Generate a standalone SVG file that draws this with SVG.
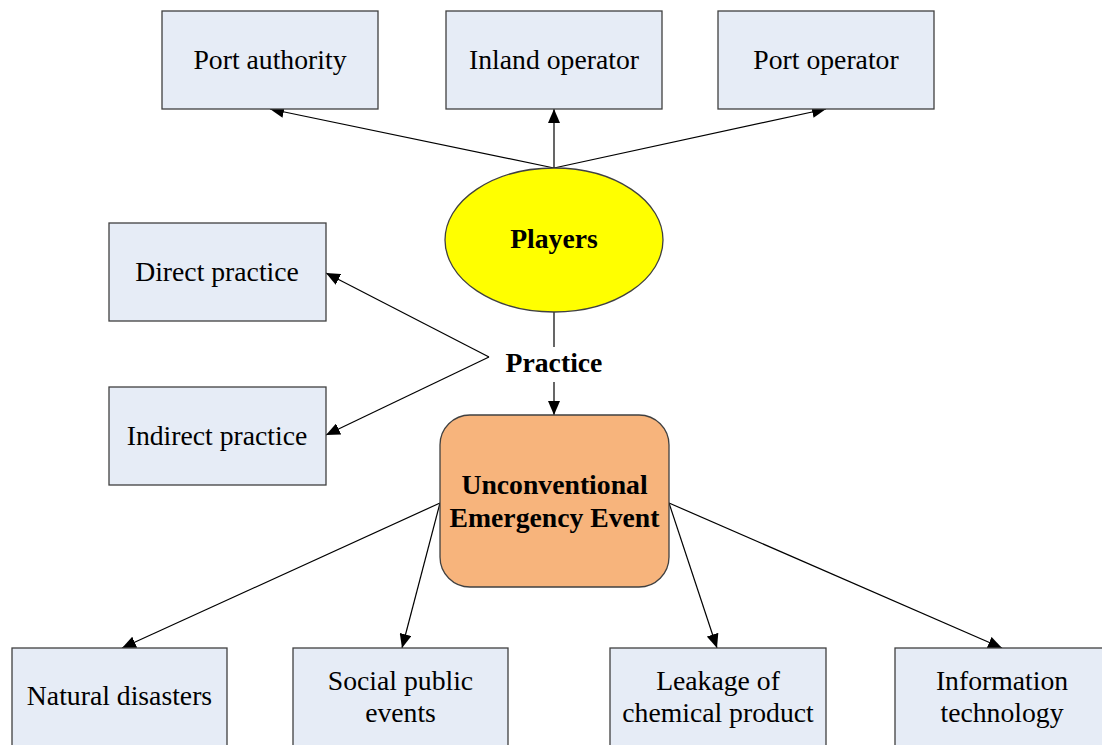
<svg xmlns="http://www.w3.org/2000/svg" width="1102" height="745" viewBox="0 0 1102 745">
  <style>
    .box { fill: #E6ECF6; stroke: #404040; stroke-width: 1.3; }
    .lbl { font-family: "Liberation Serif", "Times New Roman", serif; font-size: 27.7px; fill: #000; text-anchor: middle; }
    .bold { font-weight: bold; }
    .edge { fill: none; stroke: #000; stroke-width: 1.2; }
  </style>
  <defs>
    <marker id="arrow" markerUnits="userSpaceOnUse" markerWidth="14" markerHeight="12" viewBox="0 0 14 12" refX="14" refY="6" orient="auto">
      <path d="M0,0 L14,6 L0,12 z" fill="#000"/>
    </marker>
  </defs>

  <rect width="1102" height="745" fill="#fff"/>

  <!-- connectors -->
  <g id="connectors">
    <line class="edge" x1="554" y1="168" x2="270" y2="109" marker-end="url(#arrow)"/>
    <line class="edge" x1="554" y1="168" x2="554" y2="109" marker-end="url(#arrow)"/>
    <line class="edge" x1="554" y1="168" x2="826" y2="109" marker-end="url(#arrow)"/>
    <line class="edge" x1="554" y1="312" x2="554" y2="347"/>
    <line class="edge" x1="554" y1="382" x2="554" y2="415" marker-end="url(#arrow)"/>
    <line class="edge" x1="489" y1="357" x2="326" y2="273" marker-end="url(#arrow)"/>
    <line class="edge" x1="489" y1="357" x2="326" y2="435" marker-end="url(#arrow)"/>
    <line class="edge" x1="440" y1="503" x2="122" y2="648" marker-end="url(#arrow)"/>
    <line class="edge" x1="440" y1="503" x2="402" y2="648" marker-end="url(#arrow)"/>
    <line class="edge" x1="669" y1="503" x2="717" y2="648" marker-end="url(#arrow)"/>
    <line class="edge" x1="669" y1="503" x2="1002" y2="648" marker-end="url(#arrow)"/>
  </g>

  <g id="port-authority">
    <rect class="box" x="162" y="11" width="216" height="98"/>
    <text class="lbl" x="270" y="69">Port authority</text>
  </g>
  <g id="inland-operator">
    <rect class="box" x="446" y="11" width="216" height="98"/>
    <text class="lbl" x="554" y="69">Inland operator</text>
  </g>
  <g id="port-operator">
    <rect class="box" x="718" y="11" width="216" height="98"/>
    <text class="lbl" x="826" y="69">Port operator</text>
  </g>

  <g id="players">
    <ellipse cx="554" cy="240" rx="109" ry="72" fill="#FFFF00" stroke="#404040" stroke-width="1.3"/>
    <text class="lbl bold" x="554" y="248">Players</text>
  </g>

  <g id="practice">
    <text class="lbl bold" x="554" y="372">Practice</text>
  </g>

  <g id="direct-practice">
    <rect class="box" x="109" y="223" width="217" height="98"/>
    <text class="lbl" x="217" y="281">Direct practice</text>
  </g>
  <g id="indirect-practice">
    <rect class="box" x="109" y="387" width="217" height="98"/>
    <text class="lbl" x="217" y="445">Indirect practice</text>
  </g>

  <g id="unconventional-event">
    <rect x="440" y="415" width="229" height="172" rx="30" ry="30" fill="#F7B47C" stroke="#404040" stroke-width="1.3"/>
    <text class="lbl bold" x="554.5" y="494">Unconventional</text>
    <text class="lbl bold" x="554.5" y="527">Emergency Event</text>
  </g>

  <g id="natural-disasters">
    <rect class="box" x="12" y="648" width="215" height="110"/>
    <text class="lbl" x="119.5" y="705">Natural disasters</text>
  </g>
  <g id="social-public-events">
    <rect class="box" x="293" y="648" width="215" height="110"/>
    <text class="lbl" x="400.5" y="690">Social public</text>
    <text class="lbl" x="400.5" y="722">events</text>
  </g>
  <g id="chemical-leakage">
    <rect class="box" x="610" y="648" width="216" height="110"/>
    <text class="lbl" x="718" y="690">Leakage of</text>
    <text class="lbl" x="718" y="722">chemical product</text>
  </g>
  <g id="information-technology">
    <rect class="box" x="895" y="648" width="216" height="110"/>
    <text class="lbl" x="1002" y="690">Information</text>
    <text class="lbl" x="1002" y="722">technology</text>
  </g>
</svg>
